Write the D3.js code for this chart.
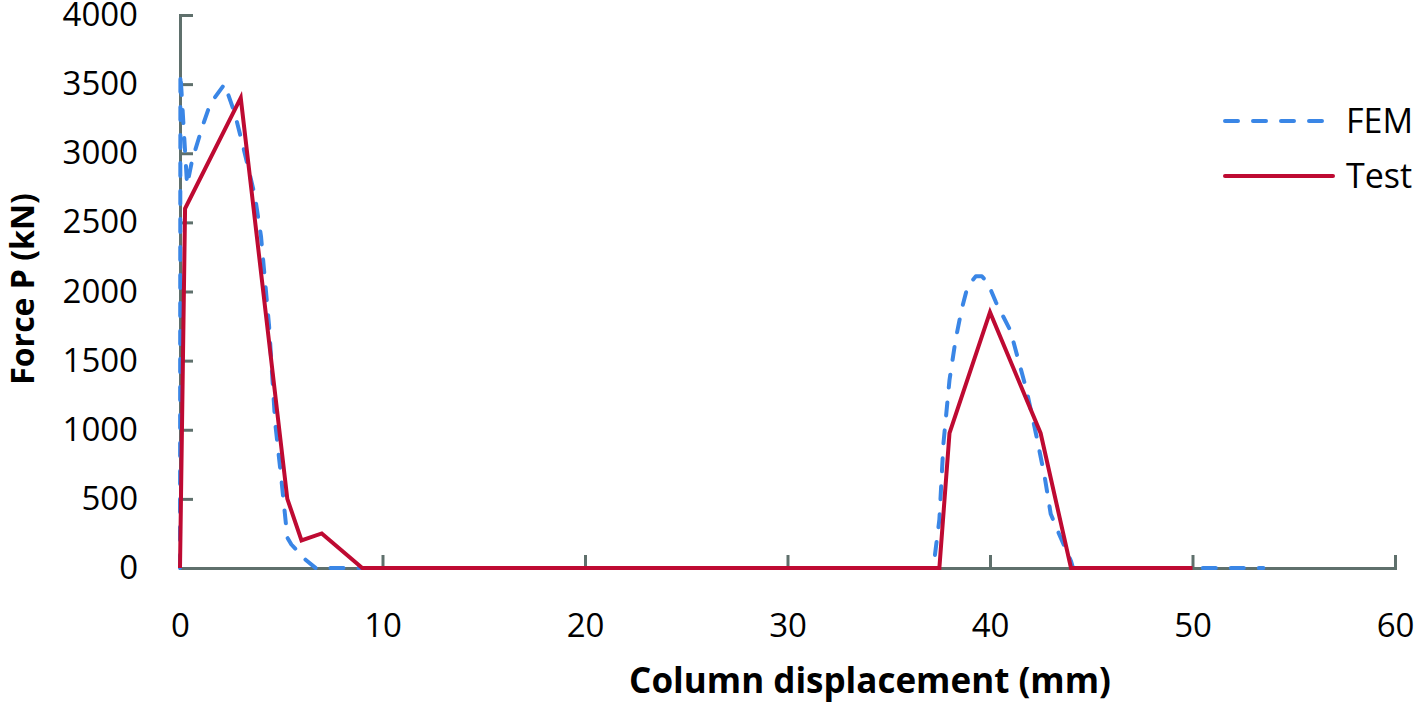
<!DOCTYPE html>
<html>
<head>
<meta charset="utf-8">
<script src="https://cdn.jsdelivr.net/npm/d3@7"></script>
<style>
  body { margin: 0; background: #fff; }
  text { font-family: "Open Sans", sans-serif; fill: #000; }
  .axis path, .axis line { stroke: #5f706c; stroke-width: 3; }
</style>
</head>
<body>
<svg id="chart"></svg>
<script>
let width = 1418,
    height = 705;

let margin = {top: 15, right: 23, bottom: 137, left: 180};

// FEM curve (displacement mm, force kN)
let femX = [0, 0.02, 0.35, 0.6, 1.1, 1.5, 2.2, 2.7, 3.1, 3.7, 4.0, 4.4, 4.7, 5.0, 5.3, 5.5, 6.2, 6.7, 37.2,
            37.5, 37.7, 38.0, 38.3, 38.6, 38.9, 39.3, 39.6, 39.9, 40.3, 41.0, 41.8, 42.3, 42.7, 43.0, 43.4, 44.0, 44.1, 53.5];
let femY = [0, 3580, 2770, 2950, 3190, 3360, 3500, 3290, 3060, 2690, 2400, 1750, 1050, 650, 220, 170, 60, 0, 0,
            350, 900, 1360, 1650, 1870, 2040, 2110, 2110, 2060, 1920, 1720, 1290, 950, 660, 390, 250, 50, 0, 0];

// Test curve
let testX = [0, 0.25, 3, 5.3, 6, 7, 9, 37.5, 38, 40, 42.5, 44, 50];
let testY = [0, 2600, 3400, 500, 200, 250, 0, 0, 975, 1850, 975, 0, 0];

let xTicks = [0, 10, 20, 30, 40, 50, 60];
let yTicks = [0, 500, 1000, 1500, 2000, 2500, 3000, 3500, 4000];

let seriesNames = ["FEM", "Test"];
let seriesColors = ["#3a86e6", "#be0a32"];

let svg = d3.select('#chart')
    .attr('width', width)
    .attr('height', height);

let x = d3.scaleLinear()
    .domain([0, 60])
    .range([margin.left, width - margin.right]);

let y = d3.scaleLinear()
    .domain([0, 4000])
    .range([height - margin.bottom, margin.top]);

// axes, ticks pointing inside the plot
svg.append('g')
    .attr('class', 'axis')
    .attr('transform', 'translate(0,' + (height - margin.bottom) + ')')
    .call(d3.axisBottom(x).tickValues(xTicks).tickFormat(d3.format('d'))
        .tickSize(-13).tickSizeOuter(-13).tickPadding(46))
    .call(g => g.selectAll('text').style('font-size', '33px').style('font-family', '"Open Sans", sans-serif'));

svg.append('g')
    .attr('class', 'axis')
    .attr('transform', 'translate(' + margin.left + ',0)')
    .call(d3.axisLeft(y).tickValues(yTicks).tickFormat(d3.format('d'))
        .tickSize(-13).tickSizeOuter(-13).tickPadding(42))
    .call(g => g.selectAll('text').style('font-size', '33px').style('font-family', '"Open Sans", sans-serif'));

let line = d3.line()
    .x(d => x(d[0]))
    .y(d => y(d[1]));

let femData = femX.map((v, i) => [v, femY[i]]);
let testData = testX.map((v, i) => [v, testY[i]]);

svg.append('path')
    .datum(femData)
    .attr('d', line)
    .attr('fill', 'none')
    .attr('stroke', seriesColors[0])
    .attr('stroke-width', 4)
    .attr('stroke-dasharray', '13,15')
    .attr('stroke-linecap', 'round')
    .attr('stroke-linejoin', 'round');

svg.append('path')
    .datum(testData)
    .attr('d', line)
    .attr('fill', 'none')
    .attr('stroke', seriesColors[1])
    .attr('stroke-width', 4)
    .attr('stroke-linejoin', 'miter');

// axis titles
svg.append('text')
    .attr('x', 870)
    .attr('y', 693)
    .attr('text-anchor', 'middle')
    .style('font-size', '35px')
    .style('font-weight', 'bold')
    .text('Column displacement (mm)');

svg.append('text')
    .attr('transform', 'translate(34,289) rotate(-90)')
    .attr('text-anchor', 'middle')
    .style('font-size', '32px')
    .style('font-weight', 'bold')
    .text('Force P (kN)');

// legend
let legend = svg.append('g')
    .selectAll('g')
    .data(seriesNames)
    .enter()
    .append('g')
    .attr('transform', function(d, i) { return 'translate(1223,' + (121 + i * 55) + ')'; });

legend.append('line')
    .attr('x1', 2)
    .attr('x2', function(d, i) { return i === 0 ? 100 : 110; })
    .attr('stroke', function(d, i) { return seriesColors[i]; })
    .attr('stroke-width', 4)
    .attr('stroke-linecap', 'round')
    .attr('stroke-dasharray', function(d, i) { return i === 0 ? '13,15' : null; });

legend.append('text')
    .attr('x', 123)
    .attr('dy', '0.36em')
    .style('font-size', '34px')
    .text(function(d) { return d; });
</script>
</body>
</html>
